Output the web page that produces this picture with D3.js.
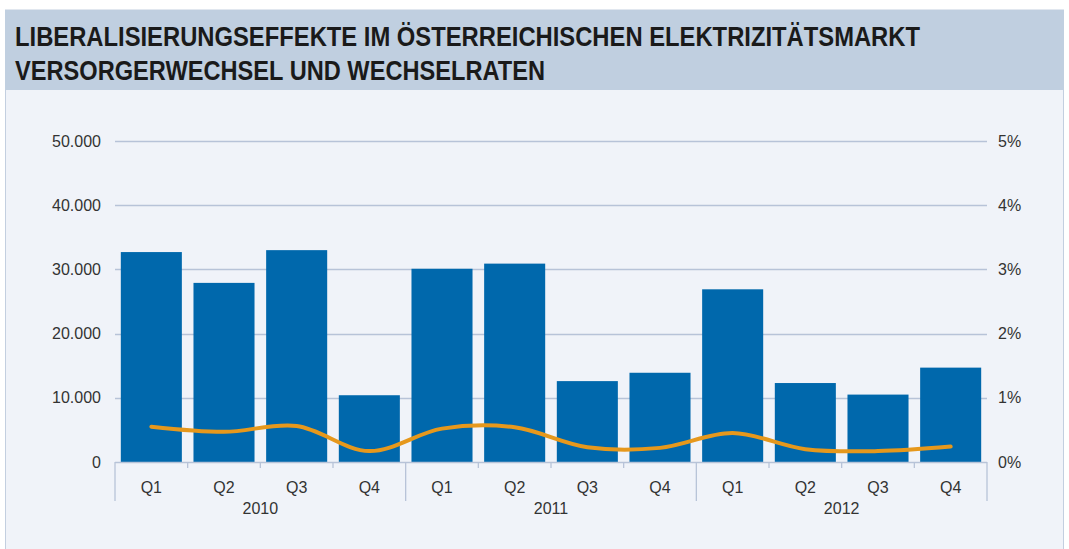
<!DOCTYPE html>
<html lang="de">
<head>
<meta charset="UTF-8">
<title>Versorgerwechsel und Wechselraten</title>
<script src="https://d3js.org/d3.v7.min.js"></script>
<style>
  body { margin: 0; background: #fff; }
  svg text { font-family: "Liberation Sans", Arial, sans-serif; }
</style>
</head>
<body>
<div id="chart"></div>
<script>
const quarters = ["Q1", "Q2", "Q3", "Q4", "Q1", "Q2", "Q3", "Q4", "Q1", "Q2", "Q3", "Q4"];
const years = ["2010", "2011", "2012"];
const switches = [32700, 27900, 33000, 10400, 30100, 30900, 12600, 13900, 26900, 12300, 10500, 14700];
const rates = [0.55, 0.47, 0.56, 0.17, 0.52, 0.54, 0.23, 0.22, 0.45, 0.20, 0.17, 0.24];
const leftTicks = [0, 10000, 20000, 30000, 40000, 50000];
const rightTicks = [0, 1, 2, 3, 4, 5];

const width = 1069, height = 549;
const margin = { top: 141, right: 82, bottom: 87, left: 115 };
const plotW = width - margin.left - margin.right;
const plotH = height - margin.top - margin.bottom;

const svg = d3.select("#chart").append("svg")
    .attr("width", width)
    .attr("height", height);

// panel + header
svg.append("rect").attr("x", 5.5).attr("y", 10).attr("width", 1058).attr("height", 545)
    .attr("fill", "#f0f3f9").attr("stroke", "#c3cfe0");
svg.append("rect").attr("x", 5).attr("y", 10).attr("width", 1059).attr("height", 80)
    .attr("fill", "#c0cfe0");

svg.append("text").attr("x", 15).attr("y", 46)
    .attr("textLength", 905).attr("lengthAdjust", "spacingAndGlyphs")
    .style("font-family", "'Liberation Sans Narrow', 'Liberation Sans', sans-serif")
    .style("font-weight", "bold").style("font-size", "27px").attr("fill", "#1a1a1a")
    .text("LIBERALISIERUNGSEFFEKTE IM ÖSTERREICHISCHEN ELEKTRIZITÄTSMARKT");
svg.append("text").attr("x", 15).attr("y", 80)
    .attr("textLength", 530).attr("lengthAdjust", "spacingAndGlyphs")
    .style("font-family", "'Liberation Sans Narrow', 'Liberation Sans', sans-serif")
    .style("font-weight", "bold").style("font-size", "27px").attr("fill", "#1a1a1a")
    .text("VERSORGERWECHSEL UND WECHSELRATEN");

const g = svg.append("g").attr("transform", `translate(${margin.left},${margin.top})`);

const x = d3.scaleBand().domain(d3.range(quarters.length)).range([0, plotW]).paddingInner(0.16).paddingOuter(0.08);
const yL = d3.scaleLinear().domain([0, 50000]).range([plotH, 0]);
const yR = d3.scaleLinear().domain([0, 5]).range([plotH, 0]);

// gridlines
g.append("g").selectAll("line").data(leftTicks.slice(1)).join("line")
    .attr("x1", 0).attr("x2", plotW)
    .attr("y1", d => Math.round(yL(d)) + 0.5).attr("y2", d => Math.round(yL(d)) + 0.5)
    .attr("stroke", "#b7c3d8").attr("stroke-width", 1.3);

// left axis labels
g.append("g").selectAll("text").data(leftTicks).join("text")
    .attr("x", -14).attr("y", d => yL(d)).attr("dy", "0.35em")
    .attr("text-anchor", "end").style("font-size", "16px").attr("fill", "#333")
    .text(d => d3.format(",")(d).replace(/,/g, "."));

// right axis labels
g.append("g").selectAll("text").data(rightTicks).join("text")
    .attr("x", plotW + 11).attr("y", d => yR(d)).attr("dy", "0.35em")
    .attr("text-anchor", "start").style("font-size", "16px").attr("fill", "#333")
    .text(d => d + "%");

// bars
g.append("g").selectAll("rect").data(switches).join("rect")
    .attr("x", (d, i) => x(i)).attr("width", x.bandwidth())
    .attr("y", d => yL(d)).attr("height", d => plotH - yL(d))
    .attr("fill", "#0068ac");

// category axis
const bandStart = i => i * (plotW / quarters.length);
const ax = g.append("g").attr("transform", `translate(0,${plotH})`);
ax.append("line").attr("x1", 0).attr("x2", plotW).attr("y1", 0.5).attr("y2", 0.5)
    .attr("stroke", "#b7c3d8").attr("stroke-width", 1.3);
ax.selectAll("line.tick").data(d3.range(quarters.length + 1)).join("line")
    .attr("class", "tick")
    .attr("x1", i => bandStart(i)).attr("x2", i => bandStart(i))
    .attr("y1", 0).attr("y2", i => i % 4 === 0 ? 39 : 6)
    .attr("stroke", "#b7c3d8").attr("stroke-width", 1.3);
ax.selectAll("text.q").data(quarters).join("text")
    .attr("class", "q")
    .attr("x", (d, i) => bandStart(i) + plotW / quarters.length / 2).attr("y", 31)
    .attr("text-anchor", "middle").style("font-size", "16px").attr("fill", "#333")
    .text(d => d);
ax.selectAll("text.yr").data(years).join("text")
    .attr("class", "yr")
    .attr("x", (d, i) => bandStart(i * 4 + 2)).attr("y", 52)
    .attr("text-anchor", "middle").style("font-size", "16px").attr("fill", "#333")
    .text(d => d);

// rate line
const line = d3.line()
    .x((d, i) => x(i) + x.bandwidth() / 2)
    .y(d => yR(d))
    .curve(d3.curveCatmullRom.alpha(0.5));
g.append("path").datum(rates)
    .attr("d", line)
    .attr("fill", "none").attr("stroke", "#e6981c").attr("stroke-width", 4)
    .attr("stroke-linecap", "round");
</script>
</body>
</html>
